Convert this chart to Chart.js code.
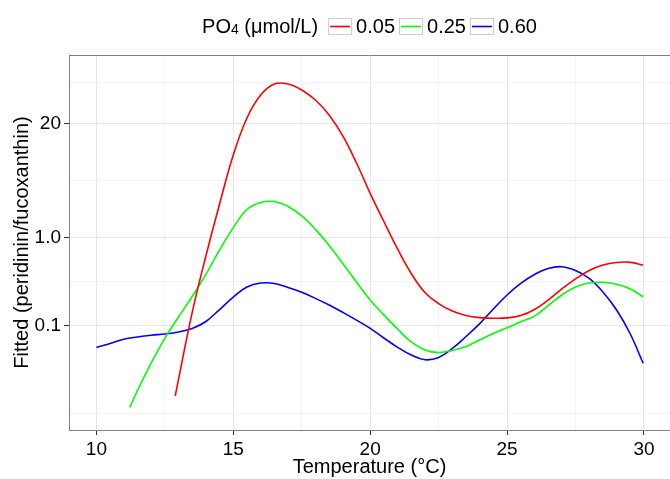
<!DOCTYPE html>
<html>
<head>
<meta charset="utf-8">
<script src="https://cdn.jsdelivr.net/npm/chart.js@4"></script>
<style>
  body { margin: 0; background: #fff; }
  canvas { display: block; }
</style>
</head>
<body>
<canvas id="chart" width="670" height="479"></canvas>
<script>
// Series: fitted ratio against temperature, one curve per PO4 level
const seriesLabels = ['0.05', '0.25', '0.60'];
const seriesColors = ['#FF0000', '#00FF00', '#0000FF'];

const tempLow = [12.88, 13.5, 14, 14.5, 15, 15.5, 16, 16.5, 17, 17.5, 18, 18.5, 19, 19.5, 20, 20.5, 21, 21.5, 22, 22.5, 23, 23.5, 24, 24.5, 25, 25.5, 26, 26.5, 27, 27.5, 28, 28.5, 29, 29.5, 29.97];
const fitLow = [0.0157, 0.141, 0.621, 2.44, 8.85, 23.4, 42.8, 57.2, 57.2, 48.9, 37.6, 25.3, 14.6, 7.17, 3.23, 1.54, 0.747, 0.392, 0.238, 0.178, 0.146, 0.130, 0.123, 0.121, 0.122, 0.130, 0.152, 0.195, 0.261, 0.340, 0.424, 0.490, 0.524, 0.526, 0.490];

const tempMid = [11.22, 11.5, 12, 12.5, 13, 13.5, 14, 14.5, 15, 15.5, 16, 16.5, 17, 17.5, 18, 18.5, 19, 19.5, 20, 20.5, 21, 21.5, 22, 22.5, 23, 23.5, 24, 24.5, 25, 25.5, 26, 26.5, 27, 27.5, 28, 28.5, 29, 29.5, 29.97];
const fitMid = [0.0116, 0.0180, 0.0371, 0.0713, 0.125, 0.214, 0.384, 0.729, 1.31, 2.11, 2.54, 2.60, 2.28, 1.78, 1.25, 0.819, 0.510, 0.314, 0.195, 0.132, 0.0911, 0.0648, 0.0525, 0.0491, 0.0518, 0.0575, 0.0683, 0.0810, 0.0940, 0.110, 0.128, 0.169, 0.223, 0.275, 0.305, 0.311, 0.295, 0.261, 0.213];

const tempHigh = [10, 10.5, 11, 11.5, 12, 12.5, 13, 13.5, 14, 14.5, 15, 15.5, 16, 16.5, 17, 17.5, 18, 18.5, 19, 19.5, 20, 20.5, 21, 21.5, 22, 22.5, 23, 23.5, 24, 24.5, 25, 25.5, 26, 26.5, 27, 27.5, 28, 28.5, 29, 29.5, 29.97];
const fitHigh = [0.0560, 0.0622, 0.0695, 0.0738, 0.0773, 0.0799, 0.0842, 0.0923, 0.111, 0.152, 0.211, 0.275, 0.305, 0.302, 0.271, 0.239, 0.204, 0.171, 0.141, 0.115, 0.0928, 0.0719, 0.0563, 0.0460, 0.0406, 0.0431, 0.0546, 0.0748, 0.105, 0.154, 0.223, 0.302, 0.382, 0.447, 0.469, 0.424, 0.344, 0.241, 0.150, 0.0799, 0.0370];

// Axis ticks
const xMajorTicks = [10, 15, 20, 25, 30];
const xMinorTicks = [12.5, 17.5, 22.5, 27.5];
const yMajorTicks = [0.1, 1, 20];
const yTickLabels = ['0.1', '1.0', '20'];
const yMinorTicks = [0.01, 0.316, 4.47, 60];

const fontFamily = '"Liberation Sans", Arial, Helvetica, sans-serif';
const majorGrid = '#E5E5E5';
const minorGrid = '#F3F3F3';
const frameColor = '#7F7F7F';

function toPoints(xs, ys) {
    return xs.map((x, i) => ({ x: x, y: ys[i] }));
}

// Legend drawn like ggplot: title inline, keys as boxed line segments
const ggLegend = {
    id: 'ggLegend',
    afterDraw(chart) {
        const ctx = chart.ctx;
        const area = chart.chartArea;
        const baseline = 33;
        ctx.save();

        // top frame line of the panel
        ctx.strokeStyle = frameColor;
        ctx.lineWidth = 1;
        ctx.beginPath();
        ctx.moveTo(area.left, area.top + 0.5);
        ctx.lineTo(area.right, area.top + 0.5);
        ctx.stroke();

        ctx.font = '20px ' + fontFamily;
        const poW = ctx.measureText('PO').width;
        const unitW = ctx.measureText(' (μmol/L)').width;
        ctx.font = '14px ' + fontFamily;
        const subW = ctx.measureText('4').width;
        ctx.font = '20px ' + fontFamily;
        const textW = seriesLabels.map(t => ctx.measureText(t).width);

        const keyW = 24, keyH = 17;
        let total = poW + subW + unitW + 10;
        textW.forEach(w => { total += keyW + 4 + w; });
        total += 4 * (seriesLabels.length - 1);

        let x = (area.left + area.right) / 2 - total / 2;
        ctx.fillStyle = '#000';
        ctx.textBaseline = 'alphabetic';
        ctx.textAlign = 'left';
        ctx.fillText('PO', x, baseline);
        x += poW;
        ctx.font = '14px ' + fontFamily;
        ctx.fillText('4', x, baseline + 1);
        x += subW;
        ctx.font = '20px ' + fontFamily;
        ctx.fillText(' (μmol/L)', x, baseline);
        x += unitW + 10;

        seriesLabels.forEach((label, i) => {
            const top = 18;
            ctx.fillStyle = '#FFFFFF';
            ctx.fillRect(x, top, keyW, keyH);
            ctx.strokeStyle = '#CCCCCC';
            ctx.lineWidth = 1;
            ctx.strokeRect(x + 0.5, top + 0.5, keyW - 1, keyH - 1);
            ctx.strokeStyle = seriesColors[i];
            ctx.lineWidth = 1.6;
            ctx.beginPath();
            ctx.moveTo(x + 2, top + keyH / 2);
            ctx.lineTo(x + keyW - 2, top + keyH / 2);
            ctx.stroke();
            x += keyW + 4;
            ctx.fillStyle = '#000';
            ctx.fillText(label, x, baseline);
            x += textW[i] + 4;
        });
        ctx.restore();
    }
};

function initializeChart() {
    const ctx = document.getElementById('chart');
    Chart.defaults.font.family = fontFamily;
    Chart.defaults.color = '#000';

    const datasets = [
        toPoints(tempLow, fitLow),
        toPoints(tempMid, fitMid),
        toPoints(tempHigh, fitHigh)
    ].map((pts, i) => ({
        label: seriesLabels[i],
        data: pts,
        borderColor: seriesColors[i],
        borderWidth: 1.6,
        pointRadius: 0,
        fill: false,
        tension: 0.4
    }));

    new Chart(ctx, {
        type: 'line',
        data: { datasets: datasets },
        options: {
            responsive: false,
            animation: false,
            layout: { padding: { top: 55, right: 0, bottom: 0, left: 0 } },
            plugins: {
                legend: { display: false },
                tooltip: { enabled: false }
            },
            scales: {
                x: {
                    type: 'linear',
                    min: 9,
                    max: 30.95,
                    afterFit: s => { s.height = 49; },
                    afterBuildTicks: s => {
                        s.ticks = xMinorTicks.concat(xMajorTicks).sort((a, b) => a - b).map(v => ({ value: v }));
                    },
                    ticks: {
                        autoSkip: false,
                        maxRotation: 0,
                        padding: 3,
                        font: { size: 19 },
                        callback: v => xMajorTicks.includes(v) ? String(v) : ''
                    },
                    grid: {
                        color: c => xMajorTicks.includes(c.tick && c.tick.value) ? majorGrid : minorGrid,
                        tickColor: c => xMajorTicks.includes(c.tick && c.tick.value) ? '#333' : 'rgba(0,0,0,0)',
                        tickLength: 5
                    },
                    border: { display: true, color: frameColor, width: 1 },
                    title: {
                        display: true,
                        text: 'Temperature (°C)',
                        font: { size: 20 },
                        padding: { top: 0, bottom: 0 }
                    }
                },
                y: {
                    type: 'logarithmic',
                    min: 0.0064,
                    max: 122.7,
                    afterFit: s => { s.width = 69; },
                    afterBuildTicks: s => {
                        s.ticks = yMinorTicks.concat(yMajorTicks).sort((a, b) => a - b).map(v => ({ value: v }));
                    },
                    ticks: {
                        autoSkip: false,
                        padding: 3,
                        font: { size: 19 },
                        callback: v => {
                            const i = yMajorTicks.indexOf(v);
                            return i >= 0 ? yTickLabels[i] : '';
                        }
                    },
                    grid: {
                        color: c => yMajorTicks.includes(c.tick && c.tick.value) ? majorGrid : minorGrid,
                        tickColor: c => yMajorTicks.includes(c.tick && c.tick.value) ? '#333' : 'rgba(0,0,0,0)',
                        tickLength: 5
                    },
                    border: { display: true, color: frameColor, width: 1 },
                    title: {
                        display: true,
                        text: 'Fitted (peridinin/fucoxanthin)',
                        font: { size: 20 },
                        padding: { top: 10, bottom: 0 }
                    }
                }
            }
        },
        plugins: [ggLegend]
    });
}

document.addEventListener('DOMContentLoaded', initializeChart);
</script>
</body>
</html>
